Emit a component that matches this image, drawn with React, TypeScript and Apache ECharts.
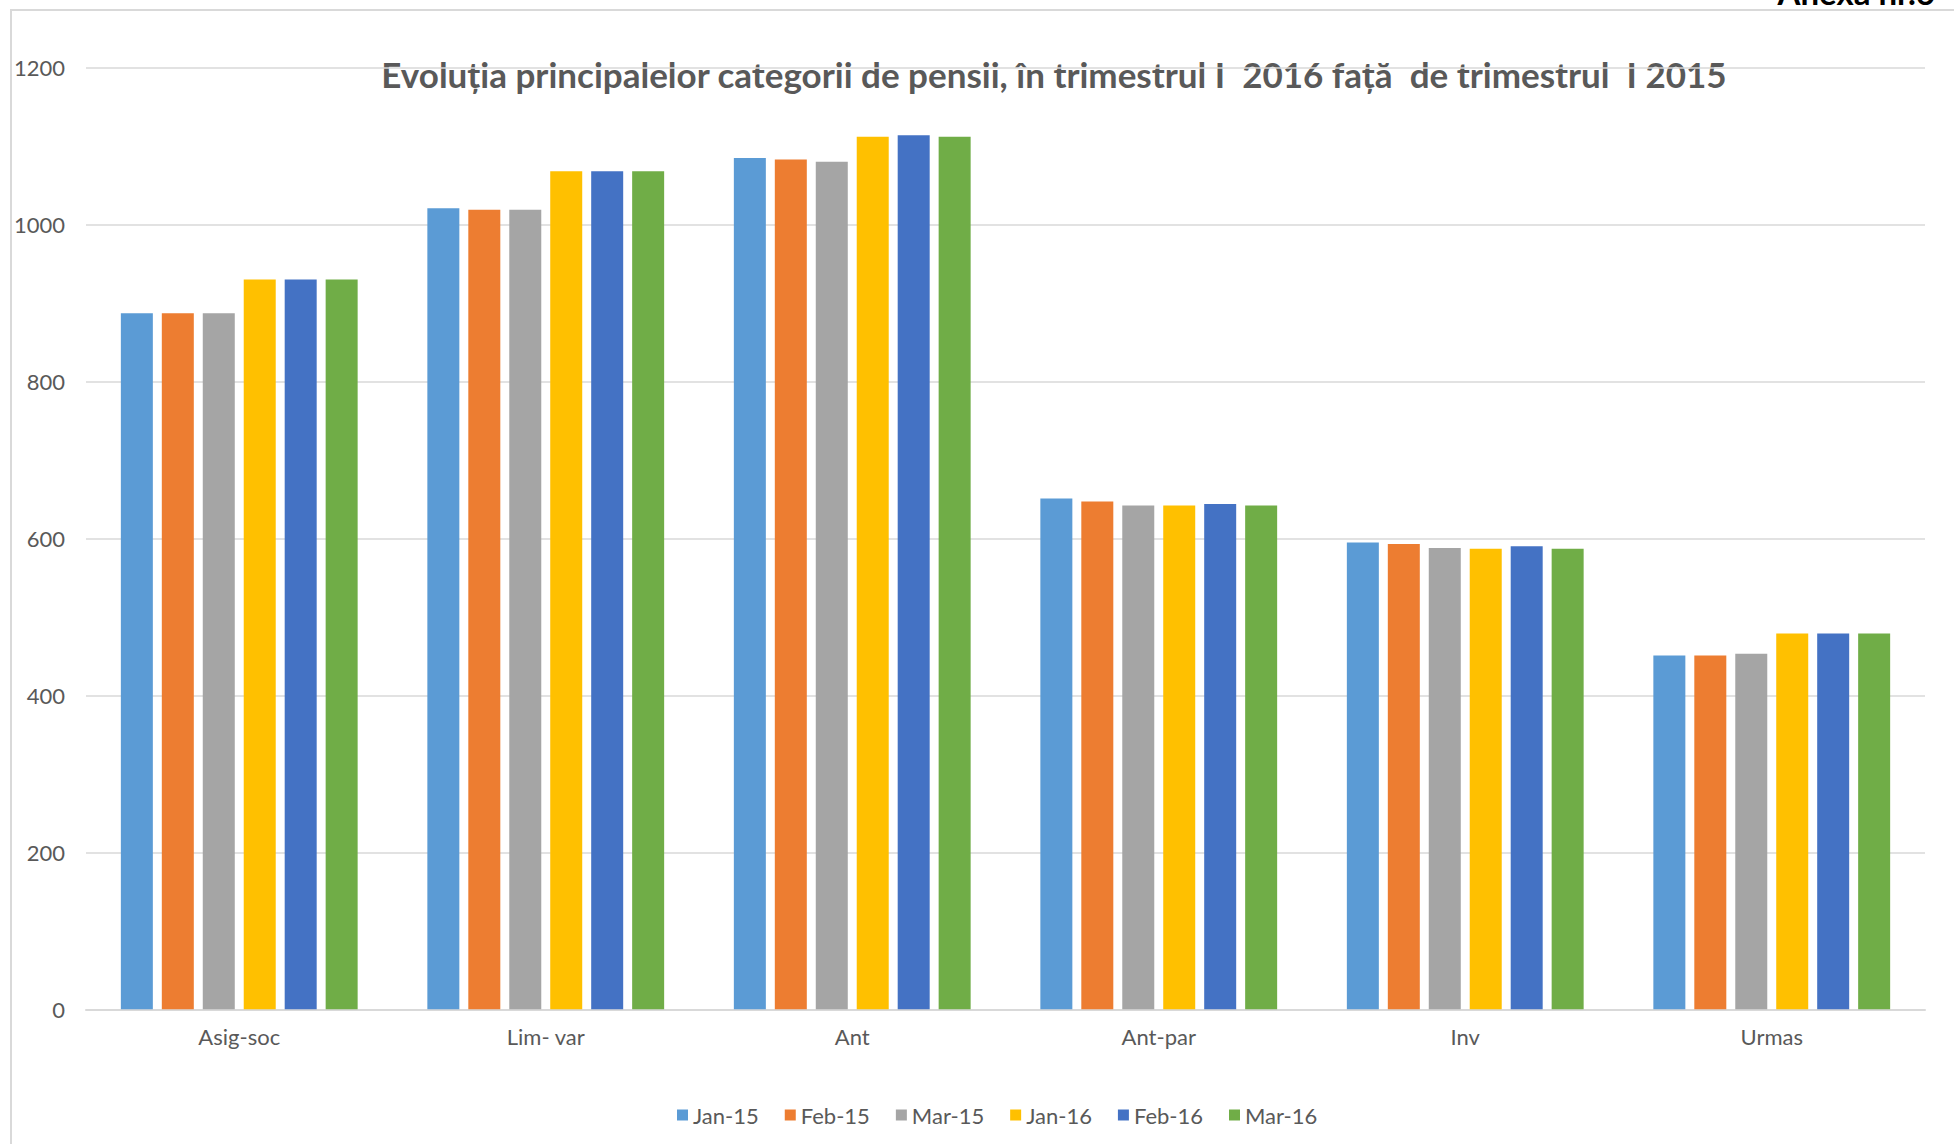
import React, { useEffect, useRef } from "react";
import * as echarts from "echarts";

const categories = ["Asig-soc", "Lim- var", "Ant", "Ant-par", "Inv", "Urmas"];
const seriesNames = ["Jan-15", "Feb-15", "Mar-15", "Jan-16", "Feb-16", "Mar-16"];
const colors = ["#5B9BD5", "#ED7D31", "#A5A5A5", "#FFC000", "#4472C4", "#70AD47"];

const jan15 = [887, 1021, 1085, 651, 595, 451];
const feb15 = [887, 1019, 1083, 647, 593, 451];
const mar15 = [887, 1019, 1080, 642, 588, 453];
const jan16 = [930, 1068, 1112, 642, 587, 479];
const feb16 = [930, 1068, 1114, 644, 590, 479];
const mar16 = [930, 1068, 1112, 642, 587, 479];
const allValues = [jan15, feb15, mar15, jan16, feb16, mar16];

const yTicks = { min: 0, max: 1200, interval: 200 };
const titleText = "Evoluția principalelor categorii de pensii, în trimestrul I  2016 față  de trimestrul  I 2015";
const FONT = "Lato, 'Open Sans', sans-serif";

export default function App() {
  const ref = useRef<HTMLDivElement>(null);
  useEffect(() => {
    if (!ref.current) return;
    const chart = echarts.init(ref.current, null, { renderer: "svg" });
    chart.setOption({
      animation: false,
      backgroundColor: "#ffffff",
      textStyle: { fontFamily: FONT },
      grid: { left: 86, right: 29, top: 67.7, bottom: 134.7, containLabel: false },
      legend: {
        data: seriesNames,
        left: 672,
        top: 1099,
        itemWidth: 11,
        itemHeight: 11,
        itemGap: 26,
        icon: "rect",
        textStyle: { fontSize: 22, color: "#595959", fontFamily: FONT },
      },
      xAxis: {
        type: "category",
        data: categories,
        axisLine: { lineStyle: { color: "#d9d9d9", width: 2 } },
        axisTick: { show: false },
        axisLabel: { fontSize: 22, color: "#595959", margin: 16, fontFamily: FONT },
      },
      yAxis: {
        type: "value",
        min: yTicks.min,
        max: yTicks.max,
        interval: yTicks.interval,
        axisLine: { show: false },
        axisTick: { show: false },
        splitLine: { lineStyle: { color: "#d9d9d9", width: 1.5 } },
        axisLabel: {
          fontSize: 22,
          color: "#595959",
          margin: 21,
          fontFamily: FONT,
          formatter: (v: number) => String(v),
        },
      },
      series: seriesNames.map((name, i) => ({
        name,
        type: "bar",
        data: allValues[i],
        barWidth: 32,
        barGap: "28%",
        itemStyle: { color: colors[i] },
      })),
      graphic: [
        {
          type: "rect",
          shape: { x: 11, y: 10, width: 2100, height: 1300 },
          style: { fill: "none", stroke: "#d9d9d9", lineWidth: 2 },
          z: -1,
        },
        {
          type: "text",
          x: 1054,
          y: 74,
          style: {
            text: titleText,
            fontFamily: FONT,
            fontWeight: "bold",
            fontSize: 35,
            fill: "#595959",
            textAlign: "center",
            textVerticalAlign: "middle",
          },
        },
        {
          type: "text",
          x: 1935,
          y: 8,
          style: {
            text: "Anexa nr.6",
            fontFamily: FONT,
            fontWeight: "bold",
            fontSize: 33,
            fill: "#000000",
            textAlign: "right",
            textVerticalAlign: "bottom",
          },
        },
      ],
    });
    return () => chart.dispose();
  }, []);
  return (
    <div
      ref={ref}
      style={{ position: "absolute", left: 0, top: 0, width: 1954, height: 1144 }}
    />
  );
}
